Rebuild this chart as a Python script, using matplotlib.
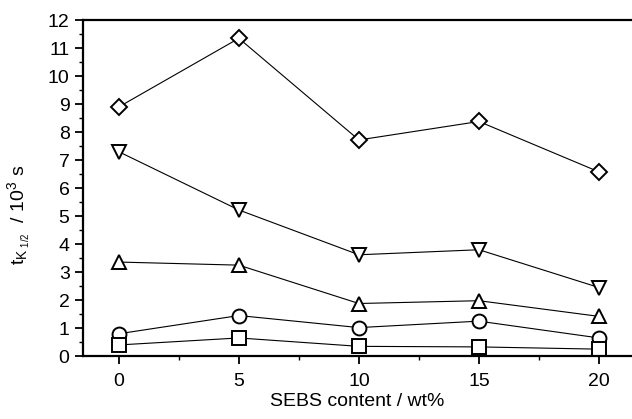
import matplotlib.pyplot as plt
from matplotlib.ticker import MultipleLocator

plt.rcParams['font.family'] = ['Liberation Sans', 'DejaVu Sans']

sebs = [0, 5, 10, 15, 20]
diamond = [8.9, 11.35, 7.72, 8.38, 6.58]
tri_down = [7.3, 5.22, 3.62, 3.8, 2.45]
tri_up = [3.36, 3.25, 1.88, 1.98, 1.42]
circle = [0.8, 1.45, 1.02, 1.25, 0.65]
square = [0.4, 0.65, 0.35, 0.33, 0.25]

fig = plt.figure(figsize=(6.32, 4.19), dpi=100)
ax = fig.add_axes([0.131, 0.150, 0.869, 0.802])

for vals, m in [(diamond, 'D'), (tri_down, 'v'), (tri_up, '^'),
                (circle, 'o'), (square, 's')]:
    ms = 8 if m == 'D' else 10
    ax.plot(sebs, vals, color='black', lw=0.8, marker=m, ms=ms,
            mfc='white', mec='black', mew=1.4)

ax.set_xlim(-1.5, 21.375)
ax.set_ylim(0, 12)
ax.xaxis.set_major_locator(MultipleLocator(5))
ax.xaxis.set_minor_locator(MultipleLocator(2.5))
ax.yaxis.set_major_locator(MultipleLocator(1))
ax.yaxis.set_minor_locator(MultipleLocator(0.5))
ax.spines['right'].set_visible(False)
for s in ['left', 'bottom', 'top']:
    ax.spines[s].set_linewidth(1.6)
ax.tick_params(which='major', direction='out', length=6, width=1.3,
               labelsize=14)
ax.tick_params(which='minor', direction='out', length=3, width=1.0)
ax.tick_params(axis='x', pad=6)

ax.set_xlabel('SEBS content / wt%', fontsize=14)
ax.xaxis.set_label_coords(0.5, -0.11)
ax.set_ylabel(r'$\mathregular{t_{K_{\ 1/2}}}$  / 10$^\mathregular{3}$ s',
              fontsize=14)
ax.yaxis.set_label_coords(-0.09, 0.42)

fig.savefig('out.png', dpi=100)
